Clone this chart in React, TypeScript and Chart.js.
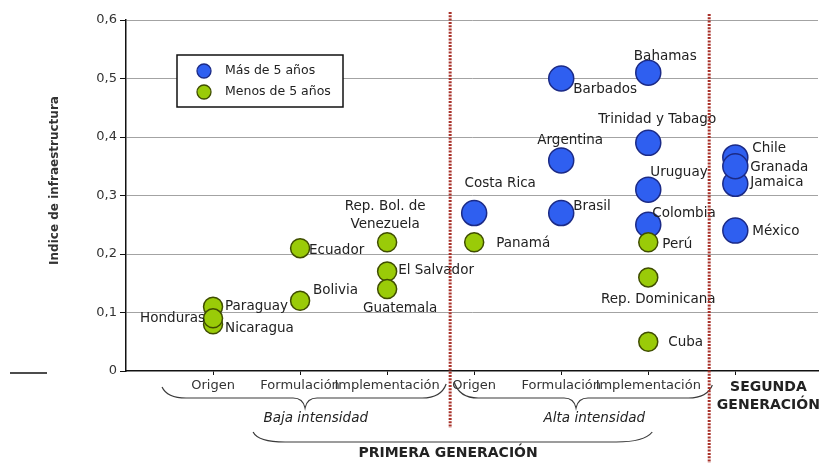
import React, { useEffect, useRef } from 'react';
import { Chart, registerables } from 'chart.js';

Chart.register(...registerables);

// ---------- data ----------
const stageTicks = [1, 2, 3, 4, 5, 6, 7];
const stageLabels = ['Origen', 'Formulación', 'Implementación', 'Origen', 'Formulación', 'Implementación', ''];
const groupLabels = ['Baja intensidad', 'Alta intensidad'];
const generationLabels = ['PRIMERA GENERACIÓN', 'SEGUNDA GENERACIÓN'];
const yAxisTitle = 'Indice de infraestructura';
const seriesNames = ['Más de 5 años', 'Menos de 5 años'];

const masNames = ['Costa Rica', 'Barbados', 'Argentina', 'Brasil', 'Bahamas', 'Trinidad y Tabago', 'Uruguay', 'Colombia', 'Chile', 'Jamaica', 'Granada', 'México'];
const masStage = [4, 5, 5, 5, 6, 6, 6, 6, 7, 7, 7, 7];
const masValues = [0.27, 0.5, 0.36, 0.27, 0.51, 0.39, 0.31, 0.25, 0.365, 0.32, 0.35, 0.24];

const menosNames = ['Paraguay', 'Nicaragua', 'Honduras', 'Ecuador', 'Bolivia', 'Rep. Bol. de Venezuela', 'El Salvador', 'Guatemala', 'Panamá', 'Perú', 'Rep. Dominicana', 'Cuba'];
const menosStage = [1, 1, 1, 2, 2, 3, 3, 3, 4, 6, 6, 6];
const menosValues = [0.11, 0.08, 0.09, 0.21, 0.12, 0.22, 0.17, 0.14, 0.22, 0.22, 0.16, 0.05];

// ---------- styling / placement ----------
const FONT = '"DejaVu Sans", "Liberation Sans", Arial, sans-serif';
const LABEL_FONT = `13.5px ${FONT}`;
const BLUE = '#2f5ff0';
const BLUE_BORDER = '#1b2a86';
const GREEN = '#9acb08';
const GREEN_BORDER = '#3f4d00';
const RED = '#a8322a';
const TEXT = '#222222';

type Place = { dx: number; dy: number; align: CanvasTextAlign; wrap?: number };
const labelPlacement: Record<string, Place> = {
  'Paraguay': { dx: 12, dy: 0, align: 'left' },
  'Honduras': { dx: -8, dy: 0, align: 'right' },
  'Nicaragua': { dx: 12, dy: 4, align: 'left' },
  'Ecuador': { dx: 9, dy: 2, align: 'left' },
  'Bolivia': { dx: 13, dy: -10, align: 'left' },
  'Rep. Bol. de Venezuela': { dx: -2, dy: -27, align: 'center', wrap: 92 },
  'El Salvador': { dx: 11, dy: -1, align: 'left' },
  'Guatemala': { dx: 13, dy: 19, align: 'center' },
  'Panamá': { dx: 22, dy: 1, align: 'left' },
  'Costa Rica': { dx: 26, dy: -30, align: 'center' },
  'Barbados': { dx: 12, dy: 11, align: 'left' },
  'Argentina': { dx: 9, dy: -20, align: 'center' },
  'Brasil': { dx: 12, dy: -7, align: 'left' },
  'Bahamas': { dx: 17, dy: -16, align: 'center' },
  'Trinidad y Tabago': { dx: 9, dy: -23, align: 'center' },
  'Uruguay': { dx: 2, dy: -17, align: 'left' },
  'Colombia': { dx: 4, dy: -11, align: 'left' },
  'Perú': { dx: 14, dy: 2, align: 'left' },
  'Rep. Dominicana': { dx: 10, dy: 22, align: 'center' },
  'Cuba': { dx: 20, dy: 1, align: 'left' },
  'Chile': { dx: 17, dy: -9, align: 'left' },
  'Granada': { dx: 15, dy: 1, align: 'left' },
  'Jamaica': { dx: 15, dy: -1, align: 'left' },
  'México': { dx: 17, dy: 1, align: 'left' },
};

function wrapWords(ctx: CanvasRenderingContext2D, text: string, maxWidth?: number): string[] {
  if (!maxWidth) return [text];
  const words = text.split(' ');
  const lines: string[] = [];
  let cur = '';
  for (const w of words) {
    const t = cur ? cur + ' ' + w : w;
    if (ctx.measureText(t).width > maxWidth && cur) {
      lines.push(cur);
      cur = w;
    } else cur = t;
  }
  if (cur) lines.push(cur);
  return lines;
}

function drawText(ctx: CanvasRenderingContext2D, s: string, x: number, y: number, font: string, align: CanvasTextAlign = 'center', color = TEXT) {
  ctx.font = font;
  ctx.fillStyle = color;
  ctx.textAlign = align;
  ctx.textBaseline = 'middle';
  ctx.fillText(s, x, y);
}

const annotationPlugin = {
  id: 'annotations',
  afterDatasetsDraw(chart: any) {
    const ctx: CanvasRenderingContext2D = chart.ctx;
    const ca = chart.chartArea;
    ctx.save();
    // point labels
    const names = [menosNames, masNames];
    chart.data.datasets.forEach((ds: any, di: number) => {
      const meta = chart.getDatasetMeta(di);
      meta.data.forEach((el: any, i: number) => {
        const name = names[di][i];
        const p = labelPlacement[name] || { dx: 12, dy: 0, align: 'left' as CanvasTextAlign };
        ctx.font = LABEL_FONT;
        const lines = wrapWords(ctx, name, p.wrap);
        const lh = 18;
        const y0 = el.y + p.dy - ((lines.length - 1) * lh) / 2;
        lines.forEach((ln, k) => drawText(ctx, ln, el.x + p.dx, y0 + k * lh, LABEL_FONT, p.align));
      });
    });
    // legend box
    const bx = ca.left + 51, by = ca.top + 35, bw = 166, bh = 52;
    ctx.fillStyle = '#ffffff';
    ctx.fillRect(bx, by, bw, bh);
    ctx.strokeStyle = '#111';
    ctx.lineWidth = 1.5;
    ctx.strokeRect(bx, by, bw, bh);
    const legendItems = [
      { label: seriesNames[0], fill: BLUE, border: BLUE_BORDER },
      { label: seriesNames[1], fill: GREEN, border: GREEN_BORDER },
    ];
    legendItems.forEach((it, k) => {
      const cy = by + 16 + k * 21;
      ctx.beginPath();
      ctx.arc(bx + 27, cy, 7, 0, Math.PI * 2);
      ctx.fillStyle = it.fill;
      ctx.fill();
      ctx.lineWidth = 1.3;
      ctx.strokeStyle = it.border;
      ctx.stroke();
      drawText(ctx, it.label, bx + 48, cy, `12.5px ${FONT}`, 'left');
    });
    ctx.restore();
  },
  afterDraw(chart: any) {
    const ctx: CanvasRenderingContext2D = chart.ctx;
    const ca = chart.chartArea;
    const xs = chart.scales.x;
    const px = (v: number) => xs.getPixelForValue(v);
    const b = ca.bottom;
    ctx.save();

    // y axis title
    ctx.save();
    ctx.translate(55, (ca.top + ca.bottom) / 2 - 15);
    ctx.rotate(-Math.PI / 2);
    drawText(ctx, yAxisTitle, 0, 0, `bold 12px ${FONT}`, 'center', '#333');
    ctx.restore();

    // stray short line at left
    ctx.strokeStyle = '#111';
    ctx.lineWidth = 1.5;
    ctx.beginPath();
    ctx.moveTo(10, b + 2);
    ctx.lineTo(47, b + 2);
    ctx.stroke();

    // braces
    ctx.strokeStyle = '#3a3a3a';
    ctx.lineWidth = 1.2;
    const brace = (x1: number, xm: number, x2: number, yL: number, yR: number, yLine: number, yTip: number) => {
      ctx.beginPath();
      ctx.moveTo(x1, yL);
      ctx.quadraticCurveTo(x1 + 5, yLine, x1 + 24, yLine);
      ctx.lineTo(xm - 12, yLine);
      ctx.quadraticCurveTo(xm - 2, yLine, xm, yTip);
      ctx.quadraticCurveTo(xm + 2, yLine, xm + 12, yLine);
      ctx.lineTo(x2 - 24, yLine);
      ctx.quadraticCurveTo(x2 - 5, yLine, x2, yR);
      ctx.stroke();
    };
    brace(px(0.414), px(2.057), px(3.678), b + 16, b + 13, b + 27, b + 37);
    brace(px(3.77), px(5.17), px(6.736), b + 11, b + 14, b + 27, b + 37);
    // lower bracket
    ctx.beginPath();
    const lx1 = px(1.46), lx2 = px(6.046);
    ctx.moveTo(lx1, b + 61);
    ctx.quadraticCurveTo(lx1 + 5, b + 71, lx1 + 32, b + 71);
    ctx.lineTo(lx2 - 36, b + 71);
    ctx.quadraticCurveTo(lx2 - 8, b + 71, lx2, b + 61);
    ctx.stroke();

    // group texts
    drawText(ctx, groupLabels[0], px(2.18), b + 47, `italic 13.5px ${FONT}`, 'center', '#222');
    drawText(ctx, groupLabels[1], px(5.38), b + 47, `italic 13.5px ${FONT}`, 'center', '#222');
    drawText(ctx, generationLabels[0], px(3.7), b + 82, `bold 14px ${FONT}`, 'center', '#222');
    const seg = generationLabels[1].split(' ');
    drawText(ctx, seg[0], px(7.38), b + 16, `bold 14px ${FONT}`, 'center', '#222');
    drawText(ctx, seg[1], px(7.38), b + 34, `bold 14px ${FONT}`, 'center', '#222');

    // red dotted separators
    ctx.strokeStyle = RED;
    ctx.lineWidth = 3;
    ctx.setLineDash([2, 1.3]);
    ctx.beginPath();
    ctx.moveTo(px(3.724), ca.top - 8);
    ctx.lineTo(px(3.724), b + 57);
    ctx.moveTo(px(6.70), ca.top - 6);
    ctx.lineTo(px(6.70), chart.height);
    ctx.stroke();
    ctx.restore();
  },
};

export default function App() {
  const ref = useRef<HTMLCanvasElement>(null);
  useEffect(() => {
    const canvas = ref.current!;
    const chart = new Chart(canvas, {
      type: 'scatter',
      data: {
        datasets: [
          {
            label: seriesNames[1],
            data: menosStage.map((s, i) => ({ x: s, y: menosValues[i] })),
            backgroundColor: GREEN,
            borderColor: GREEN_BORDER,
            borderWidth: 1.5,
            pointRadius: 9.5,
            pointHoverRadius: 9.5,
          },
          {
            label: seriesNames[0],
            data: masStage.map((s, i) => ({ x: s, y: masValues[i] })),
            backgroundColor: BLUE,
            borderColor: BLUE_BORDER,
            borderWidth: 1.5,
            pointRadius: 12.5,
            pointHoverRadius: 12.5,
          },
        ],
      },
      options: {
        responsive: false,
        animation: false,
        events: [],
        layout: { autoPadding: false, padding: { top: 20, right: 3, left: 0, bottom: 0 } },
        plugins: { legend: { display: false }, tooltip: { enabled: false } },
        scales: {
          x: {
            type: 'linear',
            min: 0,
            max: 7.95,
            afterFit: (s: any) => { s.height = 92; },
            afterBuildTicks: (s: any) => { s.ticks = stageTicks.map((v) => ({ value: v })); },
            ticks: {
              autoSkip: false,
              maxRotation: 0,
              padding: 3,
              color: '#333',
              font: { family: FONT, size: 13 },
              callback: (v: any) => stageLabels[stageTicks.indexOf(Number(v))] ?? '',
            },
            grid: { drawOnChartArea: false, tickLength: 4, tickColor: '#111' },
            border: { color: '#111', width: 1.5 },
          },
          y: {
            min: 0,
            max: 0.6,
            afterFit: (s: any) => { s.width = 126; },
            ticks: {
              stepSize: 0.1,
              padding: 3,
              color: '#333',
              font: { family: FONT, size: 13 },
              callback: (v: any) => (Number(v) === 0 ? '0' : Number(v).toFixed(1).replace('.', ',')),
            },
            grid: {
              color: (c: any) => (c.tick && c.tick.value === 0 ? 'rgba(0,0,0,0)' : '#a3a3a3'),
              tickLength: 6,
              tickColor: '#111',
            },
            border: { color: '#111', width: 1.5 },
          },
        },
      },
      plugins: [annotationPlugin],
    } as any);
    return () => chart.destroy();
  }, []);
  return (
    <div style={{ position: 'absolute', left: 0, top: 0, width: 821, height: 463, background: '#fff' }}>
      <canvas ref={ref} width={821} height={463} style={{ display: 'block', width: 821, height: 463 }} />
    </div>
  );
}
